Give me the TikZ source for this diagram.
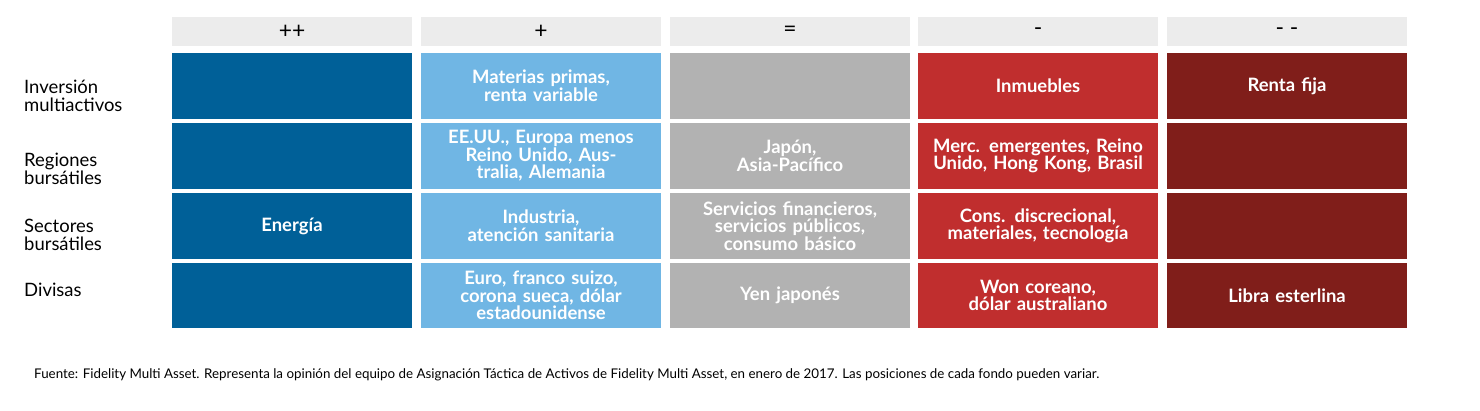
\documentclass[tikz,border=0pt]{standalone}
\usepackage{fontspec}
\setmainfont{Lato}
\definecolor{deepBlue}{RGB}{0,96,152}
\definecolor{skyBlue}{RGB}{112,182,228}
\definecolor{midGray}{RGB}{178,178,178}
\definecolor{warmRed}{RGB}{192,46,46}
\definecolor{darkRed}{RGB}{128,30,26}
\definecolor{headGray}{RGB}{236,236,236}
\begin{document}
\begin{tikzpicture}
    [
        x=0.02cm, y=-0.02cm,
        cell/.style={
            rectangle, minimum width=4.8cm, minimum height=1.32cm,
            text width=4.5cm, align=center, text=white,
            font=\bfseries\fontsize{10.5}{10}\selectfont, inner sep=0pt
        },
        head/.style={
            rectangle, fill=headGray, minimum width=4.8cm,
            minimum height=0.58cm, font=\fontsize{13}{13}\selectfont
        },
        rowlabel/.style={
            anchor=west, align=left, font=\fontsize{10.5}{10}\selectfont
        }
    ]
\useasboundingbox (0,0) rectangle (1480,411);

% Headers
\node (h1) [head] at (292,31.5) {++};
\node (h2) [head] at (541,31.5) {+};
\node (h3) [head] at (790,31.5) {=};
\node (h4) [head] at (1038,31.5) {-};
\node (h5) [head] at (1287,31.5) {- -};

% Row labels
\node (r1) [rowlabel] at (18,96) {Inversión\\multiactivos};
\node (r2) [rowlabel] at (18,169) {Regiones\\bursátiles};
\node (r3) [rowlabel] at (18,235) {Sectores\\bursátiles};
\node (r4) [rowlabel] at (18,290) {Divisas};

% Row 1
\node (a1) [cell, fill=deepBlue] at (292,86) {};
\node (a2) [cell, fill=skyBlue] at (541,86) {Materias primas,\\renta variable};
\node (a3) [cell, fill=midGray] at (790,86) {};
\node (a4) [cell, fill=warmRed] at (1038,86) {Inmuebles};
\node (a5) [cell, fill=darkRed] at (1287,86) {Renta fija};

% Row 2
\node (b1) [cell, fill=deepBlue] at (292,156) {};
\node (b2) [cell, fill=skyBlue] at (541,156) {EE.UU., Europa menos Reino Unido, Australia, Alemania};
\node (b3) [cell, fill=midGray] at (790,156) {Japón,\\Asia-Pacífico};
\node (b4) [cell, fill=warmRed] at (1038,156) {Merc. emergentes, Reino Unido, Hong Kong, Brasil};
\node (b5) [cell, fill=darkRed] at (1287,156) {};

% Row 3
\node (c1) [cell, fill=deepBlue] at (292,226) {Energía};
\node (c2) [cell, fill=skyBlue] at (541,226) {Industria,\\atención sanitaria};
\node (c3) [cell, fill=midGray] at (790,226) {Servicios financieros, servicios públicos, consumo básico};
\node (c4) [cell, fill=warmRed] at (1038,226) {Cons. discrecional,\\materiales, tecnología};
\node (c5) [cell, fill=darkRed] at (1287,226) {};

% Row 4
\node (d1) [cell, fill=deepBlue] at (292,295.5) {};
\node (d2) [cell, fill=skyBlue] at (541,295.5) {Euro, franco suizo, corona sueca, dólar estadounidense};
\node (d3) [cell, fill=midGray] at (790,295.5) {Yen japonés};
\node (d4) [cell, fill=warmRed] at (1038,295.5) {Won coreano,\\dólar australiano};
\node (d5) [cell, fill=darkRed] at (1287,295.5) {Libra esterlina};

% Footer
\node (note) [anchor=west, font=\fontsize{7.6}{9}\selectfont] at (28,375)
    {Fuente: Fidelity Multi Asset. Representa la opinión del equipo de Asignación Táctica de Activos de Fidelity Multi Asset, en enero de 2017. Las posiciones de cada fondo pueden variar.};
\end{tikzpicture}
\end{document}
